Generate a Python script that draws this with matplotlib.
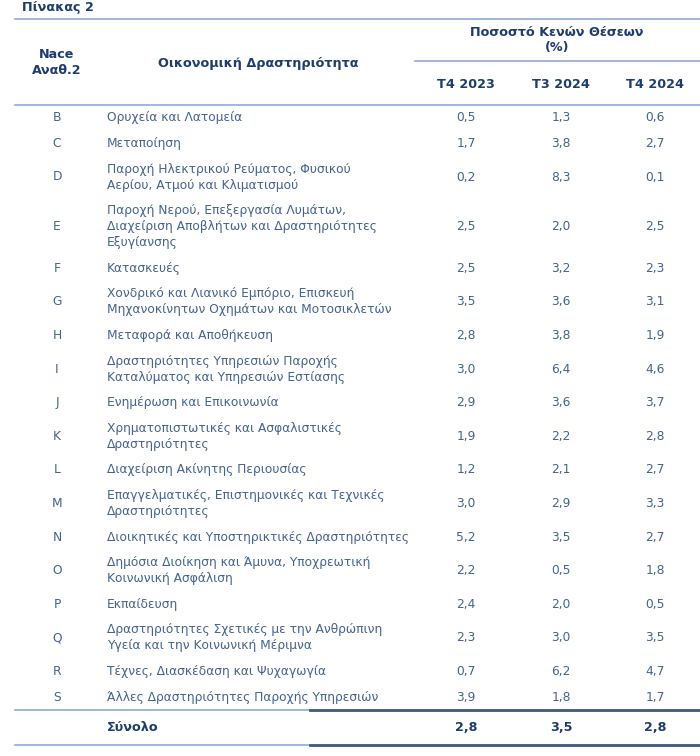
import matplotlib
matplotlib.use("Agg")
import matplotlib.pyplot as plt

# table data
codes = ["B", "C", "D", "E", "F", "G", "H", "I", "J", "K", "L", "M", "N", "O", "P", "Q", "R", "S"]
activities = [
    ["Ορυχεία και Λατομεία"],
    ["Μεταποίηση"],
    ["Παροχή Ηλεκτρικού Ρεύματος, Φυσικού", "Αερίου, Ατμού και Κλιματισμού"],
    ["Παροχή Νερού, Επεξεργασία Λυμάτων,", "Διαχείριση Αποβλήτων και Δραστηριότητες", "Εξυγίανσης"],
    ["Κατασκευές"],
    ["Χονδρικό και Λιανικό Εμπόριο, Επισκευή", "Μηχανοκίνητων Οχημάτων και Μοτοσικλετών"],
    ["Μεταφορά και Αποθήκευση"],
    ["Δραστηριότητες Υπηρεσιών Παροχής", "Καταλύματος και Υπηρεσιών Εστίασης"],
    ["Ενημέρωση και Επικοινωνία"],
    ["Χρηματοπιστωτικές και Ασφαλιστικές", "Δραστηριότητες"],
    ["Διαχείριση Ακίνητης Περιουσίας"],
    ["Επαγγελματικές, Επιστημονικές και Τεχνικές", "Δραστηριότητες"],
    ["Διοικητικές και Υποστηρικτικές Δραστηριότητες"],
    ["Δημόσια Διοίκηση και Άμυνα, Υποχρεωτική", "Κοινωνική Ασφάλιση"],
    ["Εκπαίδευση"],
    ["Δραστηριότητες Σχετικές με την Ανθρώπινη", "Υγεία και την Κοινωνική Μέριμνα"],
    ["Τέχνες, Διασκέδαση και Ψυχαγωγία"],
    ["Άλλες Δραστηριότητες Παροχής Υπηρεσιών"],
]
periods = ["T4 2023", "T3 2024", "T4 2024"]
t4_2023 = [0.5, 1.7, 0.2, 2.5, 2.5, 3.5, 2.8, 3.0, 2.9, 1.9, 1.2, 3.0, 5.2, 2.2, 2.4, 2.3, 0.7, 3.9]
t3_2024 = [1.3, 3.8, 8.3, 2.0, 3.2, 3.6, 3.8, 6.4, 3.6, 2.2, 2.1, 2.9, 3.5, 0.5, 2.0, 3.0, 6.2, 1.8]
t4_2024 = [0.6, 2.7, 0.1, 2.5, 2.3, 3.1, 1.9, 4.6, 3.7, 2.8, 2.7, 3.3, 2.7, 1.8, 0.5, 3.5, 4.7, 1.7]
total = [2.8, 3.5, 2.8]

HEAD = "#1f3c6e"
BODY = "#44638f"
THIN = "#8eaad4"
THICK = "#3d5a80"
FS_BODY = 8.8
FS_HEAD = 9.2

def fmt(v):
    return f"{v:.1f}".replace(".", ",")

fig = plt.figure(figsize=(7, 7.56), dpi=100)
ax = fig.add_axes([0, 0, 1, 1])
ax.set_xlim(0, 700)
ax.set_ylim(756, 0)
ax.axis("off")

x_code = 57
x_act = 107
x_cols = [466, 561, 655]
line_h = 16
pad = 9.6

# title and header
ax.text(22, 7.5, "Πίνακας 2", fontsize=FS_HEAD, fontweight="bold", color=HEAD, va="center", ha="left")
ax.plot([15, 700], [19, 19], color=THIN, lw=1.2)
ax.text(x_code, 55, "Nace", fontsize=FS_HEAD, fontweight="bold", color=HEAD, ha="center", va="center")
ax.text(x_code, 71, "Αναθ.2", fontsize=FS_HEAD, fontweight="bold", color=HEAD, ha="center", va="center")
ax.text(258, 63, "Οικονομική Δραστηριότητα", fontsize=FS_HEAD, fontweight="bold", color=HEAD, ha="center", va="center")
ax.text(557, 33, "Ποσοστό Κενών Θέσεων", fontsize=FS_HEAD, fontweight="bold", color=HEAD, ha="center", va="center")
ax.text(557, 48, "(%)", fontsize=FS_HEAD, fontweight="bold", color=HEAD, ha="center", va="center")
ax.plot([415, 700], [61, 61], color=THIN, lw=1.2)
for xc, p in zip(x_cols, periods):
    ax.text(xc, 84, p, fontsize=FS_HEAD, fontweight="bold", color=HEAD, ha="center", va="center")
ax.plot([15, 700], [105, 105], color=THIN, lw=1.2)

# body rows
y = 105
for i, code in enumerate(codes):
    n = len(activities[i])
    h = pad + line_h * n
    yc = y + h / 2
    ax.text(x_code, yc, code, fontsize=FS_BODY, color=BODY, ha="center", va="center")
    y0 = yc - line_h * (n - 1) / 2
    for k, line in enumerate(activities[i]):
        ax.text(x_act, y0 + k * line_h, line, fontsize=FS_BODY, color=BODY, ha="left", va="center")
    for xc, vals in zip(x_cols, [t4_2023, t3_2024, t4_2024]):
        ax.text(xc, yc, fmt(vals[i]), fontsize=FS_BODY, color=BODY, ha="center", va="center")
    y += h

# total row
ax.plot([15, 310], [y, y], color=THIN, lw=1.2)
ax.plot([310, 700], [y, y], color=THICK, lw=2)
yc = y + 17.5
ax.text(x_act, yc, "Σύνολο", fontsize=FS_HEAD, fontweight="bold", color=HEAD, ha="left", va="center")
for xc, v in zip(x_cols, total):
    ax.text(xc, yc, fmt(v), fontsize=FS_HEAD, fontweight="bold", color=HEAD, ha="center", va="center")
yb = y + 35
ax.plot([15, 310], [yb, yb], color=THIN, lw=1.2)
ax.plot([310, 700], [yb, yb], color=THICK, lw=2)

fig.savefig("out.png", dpi=100, facecolor="white")
